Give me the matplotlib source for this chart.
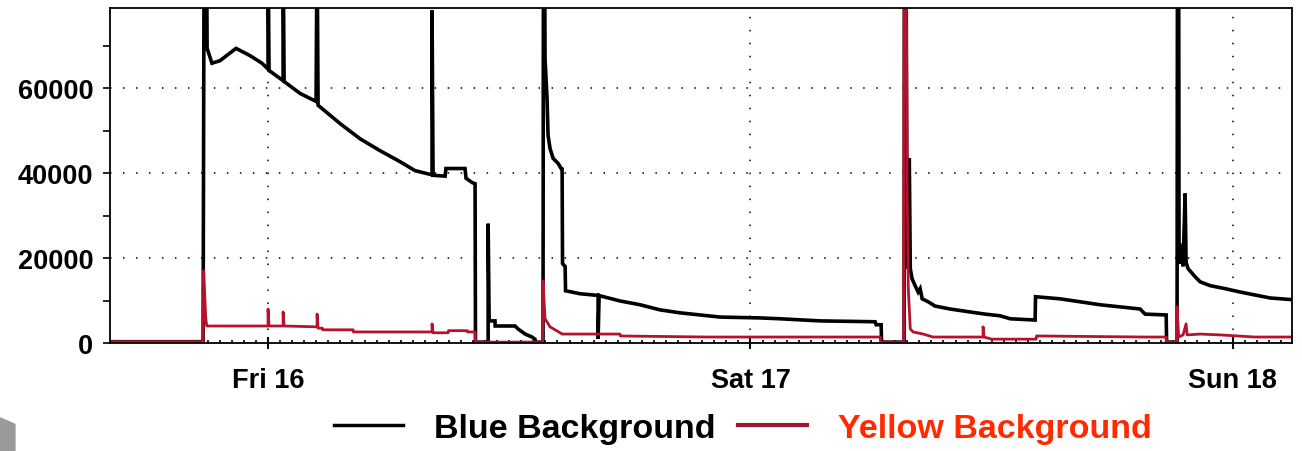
import matplotlib.pyplot as plt
from matplotlib.lines import Line2D
from matplotlib.patches import Polygon
from matplotlib.ticker import MultipleLocator

# time in hours from Fri 16 00:00, counts
blue_t = [-7.9, -3.23, -3.18, -3.06, -3.03, -2.79, -2.39, -1.59, -0.90, -0.30,
          0.0, 0.0, 0.05, 0.60, 0.75, 0.75, 0.80, 1.59, 2.39, 2.44, 2.49, 3.58,
          4.58, 5.57, 6.57, 7.31, 8.16, 8.16, 8.21, 8.81, 8.85, 9.80, 9.85, 10.15,
          10.30, 10.32, 10.95, 10.95, 11.0, 11.29, 11.30, 12.29, 12.44, 12.79,
          13.13, 13.28, 13.30, 13.68, 13.70, 13.76, 13.78, 13.88, 13.93, 14.03,
          14.18, 14.43, 14.58, 14.63, 14.65, 14.78, 14.80, 15.52, 16.42, 16.42,
          16.47, 16.52, 17.51, 18.51, 19.50, 20.50, 21.49, 22.49, 24.48, 25.47,
          27.46, 30.20, 30.25, 30.50, 30.52, 31.64, 31.66, 31.74, 31.79, 31.90,
          31.95, 32.04, 32.19, 32.34, 32.44, 32.54, 32.84, 33.18, 33.93, 34.93,
          35.67, 36.42, 36.92, 38.16, 38.18, 39.40, 40.40, 41.39, 42.39, 43.38,
          43.63, 44.68, 44.70, 45.22, 45.24, 45.30, 45.32, 45.37, 45.52, 45.62,
          45.67, 45.77, 46.12, 46.37, 46.87, 47.61, 48.36, 49.10, 49.85, 50.95]
blue_v = [300, 300, 95000, 95000, 69400, 65900, 66500, 69400, 67700, 65900,
          64500, 95000, 64200, 62300, 61800, 95000, 61600, 58800, 56900, 95000, 56000, 51700,
          48100, 45300, 42700, 40600, 39600, 78400, 39500, 39300, 41100, 41100, 38800, 37800,
          37500, 200, 200, 28100, 5200, 5200, 4000, 4000, 3300, 2100,
          1400, 900, 200, 200, 95000, 95000, 67000, 57600, 48900, 45800,
          43500, 42300, 41100, 41000, 18700, 18000, 12300, 11600, 11200, 1000,
          11200, 11100, 9900, 9000, 7800, 7100, 6600, 6100, 5900, 5700,
          5200, 5000, 4300, 4300, 200, 200, 95000, 95000, 17500, 43500,
          17500, 15100, 13500, 12000, 12800, 10400, 9700, 8700, 8000, 7300,
          6800, 6400, 5700, 5400, 10900, 10400, 9700, 9000, 8500, 8000,
          6800, 6600, 200, 200, 95000, 95000, 18700, 23400, 18000, 35200,
          19000, 17500, 15600, 14400, 13500, 12800, 12000, 11300, 10600, 10200]

yellow_t = [-7.9, -3.23, -3.20, -3.10, -3.05, 0.0, 0.0, 0.05, 0.75, 0.75, 0.80,
            2.44, 2.44, 2.49, 2.70, 2.72, 4.23, 4.25, 8.16, 8.16, 8.21, 8.96, 8.98,
            9.90, 9.92, 10.30, 10.32, 13.66, 13.68, 13.78, 14.03, 14.28, 14.63,
            17.51, 17.53, 21.90, 25.50, 30.45, 30.47, 31.62, 31.64, 31.74, 31.80,
            31.85, 31.95, 32.09, 32.59, 33.08, 35.57, 35.57, 35.62, 36.00, 38.21,
            38.23, 43.63, 44.68, 44.70, 45.20, 45.22, 45.30, 45.52, 45.67, 45.72,
            46.37, 47.36, 49.10, 50.95]
yellow_v = [300, 300, 17000, 6000, 4000, 4000, 8000, 4000, 4000, 7300, 4000,
            3800, 6800, 3500, 3500, 3100, 3100, 2600, 2600, 4500, 2400, 2400, 2900,
            2900, 2600, 2600, 200, 200, 14600, 5700, 3800, 3100, 2100,
            2100, 1650, 1400, 1400, 1400, 200, 200, 95000, 95000, 34000,
            12800, 3300, 2600, 2100, 1400, 1400, 3800, 1400, 900, 900,
            1650, 1400, 1400, 200, 200, 8500, 1400, 1900, 4500, 1900,
            2100, 1900, 1400, 1400]

day_ticks = [0, 24, 48]
day_labels = ['Fri 16', 'Sat 17', 'Sun 18']
series_names = ['Blue Background', 'Yellow Background']

plt.rcParams['font.family'] = ['Liberation Sans', 'DejaVu Sans']

fig = plt.figure(figsize=(13.02, 4.52), dpi=100)
ax = fig.add_axes([0.0845, 0.239, 0.908, 0.741])

ax.plot(blue_t, blue_v, color='black', lw=2.6, solid_joinstyle='miter')
ax.plot(yellow_t, yellow_v, color='#b5122e', lw=2.0)

ax.set_xlim(-7.86, 50.95)
ax.set_ylim(0, 78900)

ax.set_xticks(day_ticks)
ax.set_xticklabels(day_labels, fontsize=19.5, fontweight='bold')
ax.xaxis.set_minor_locator(MultipleLocator(0.6))
ax.tick_params(axis='x', which='major', direction='inout', length=9, width=1.5, pad=13)
ax.tick_params(axis='x', which='minor', direction='in', length=2.5, width=1.2)

ax.yaxis.set_major_locator(MultipleLocator(20000))
ax.yaxis.set_minor_locator(MultipleLocator(10000))
ax.tick_params(axis='y', which='both', direction='out', length=5, width=1.2, pad=7)
for lab in ax.get_yticklabels():
    lab.set_fontsize(19.5)
    lab.set_fontweight('bold')

ax.grid(True, which='major', color='black', linestyle=(0, (1, 7.5)), lw=1.1)
for sp in ax.spines.values():
    sp.set_linewidth(1.3)

handles = [Line2D([], [], color='black', lw=2.5),
           Line2D([], [], color='#a01830', lw=3)]
leg = fig.legend(handles, series_names, loc='center', bbox_to_anchor=(0.5705, 0.049),
                 ncol=2, frameon=False, handlelength=2.05, handletextpad=0.9,
                 columnspacing=0.65, prop={'size': 24.5, 'weight': 'bold'})
leg.get_texts()[1].set_color('#ff2a00')

# grey block in the lower left corner
fig.patches.append(Polygon([[0.0, 0.0], [0.012, 0.0], [0.012, 0.06], [0.0, 0.075]],
                           closed=True, transform=fig.transFigure,
                           facecolor='#9a9a9a', edgecolor='none'))

fig.savefig('out.png', dpi=100)
